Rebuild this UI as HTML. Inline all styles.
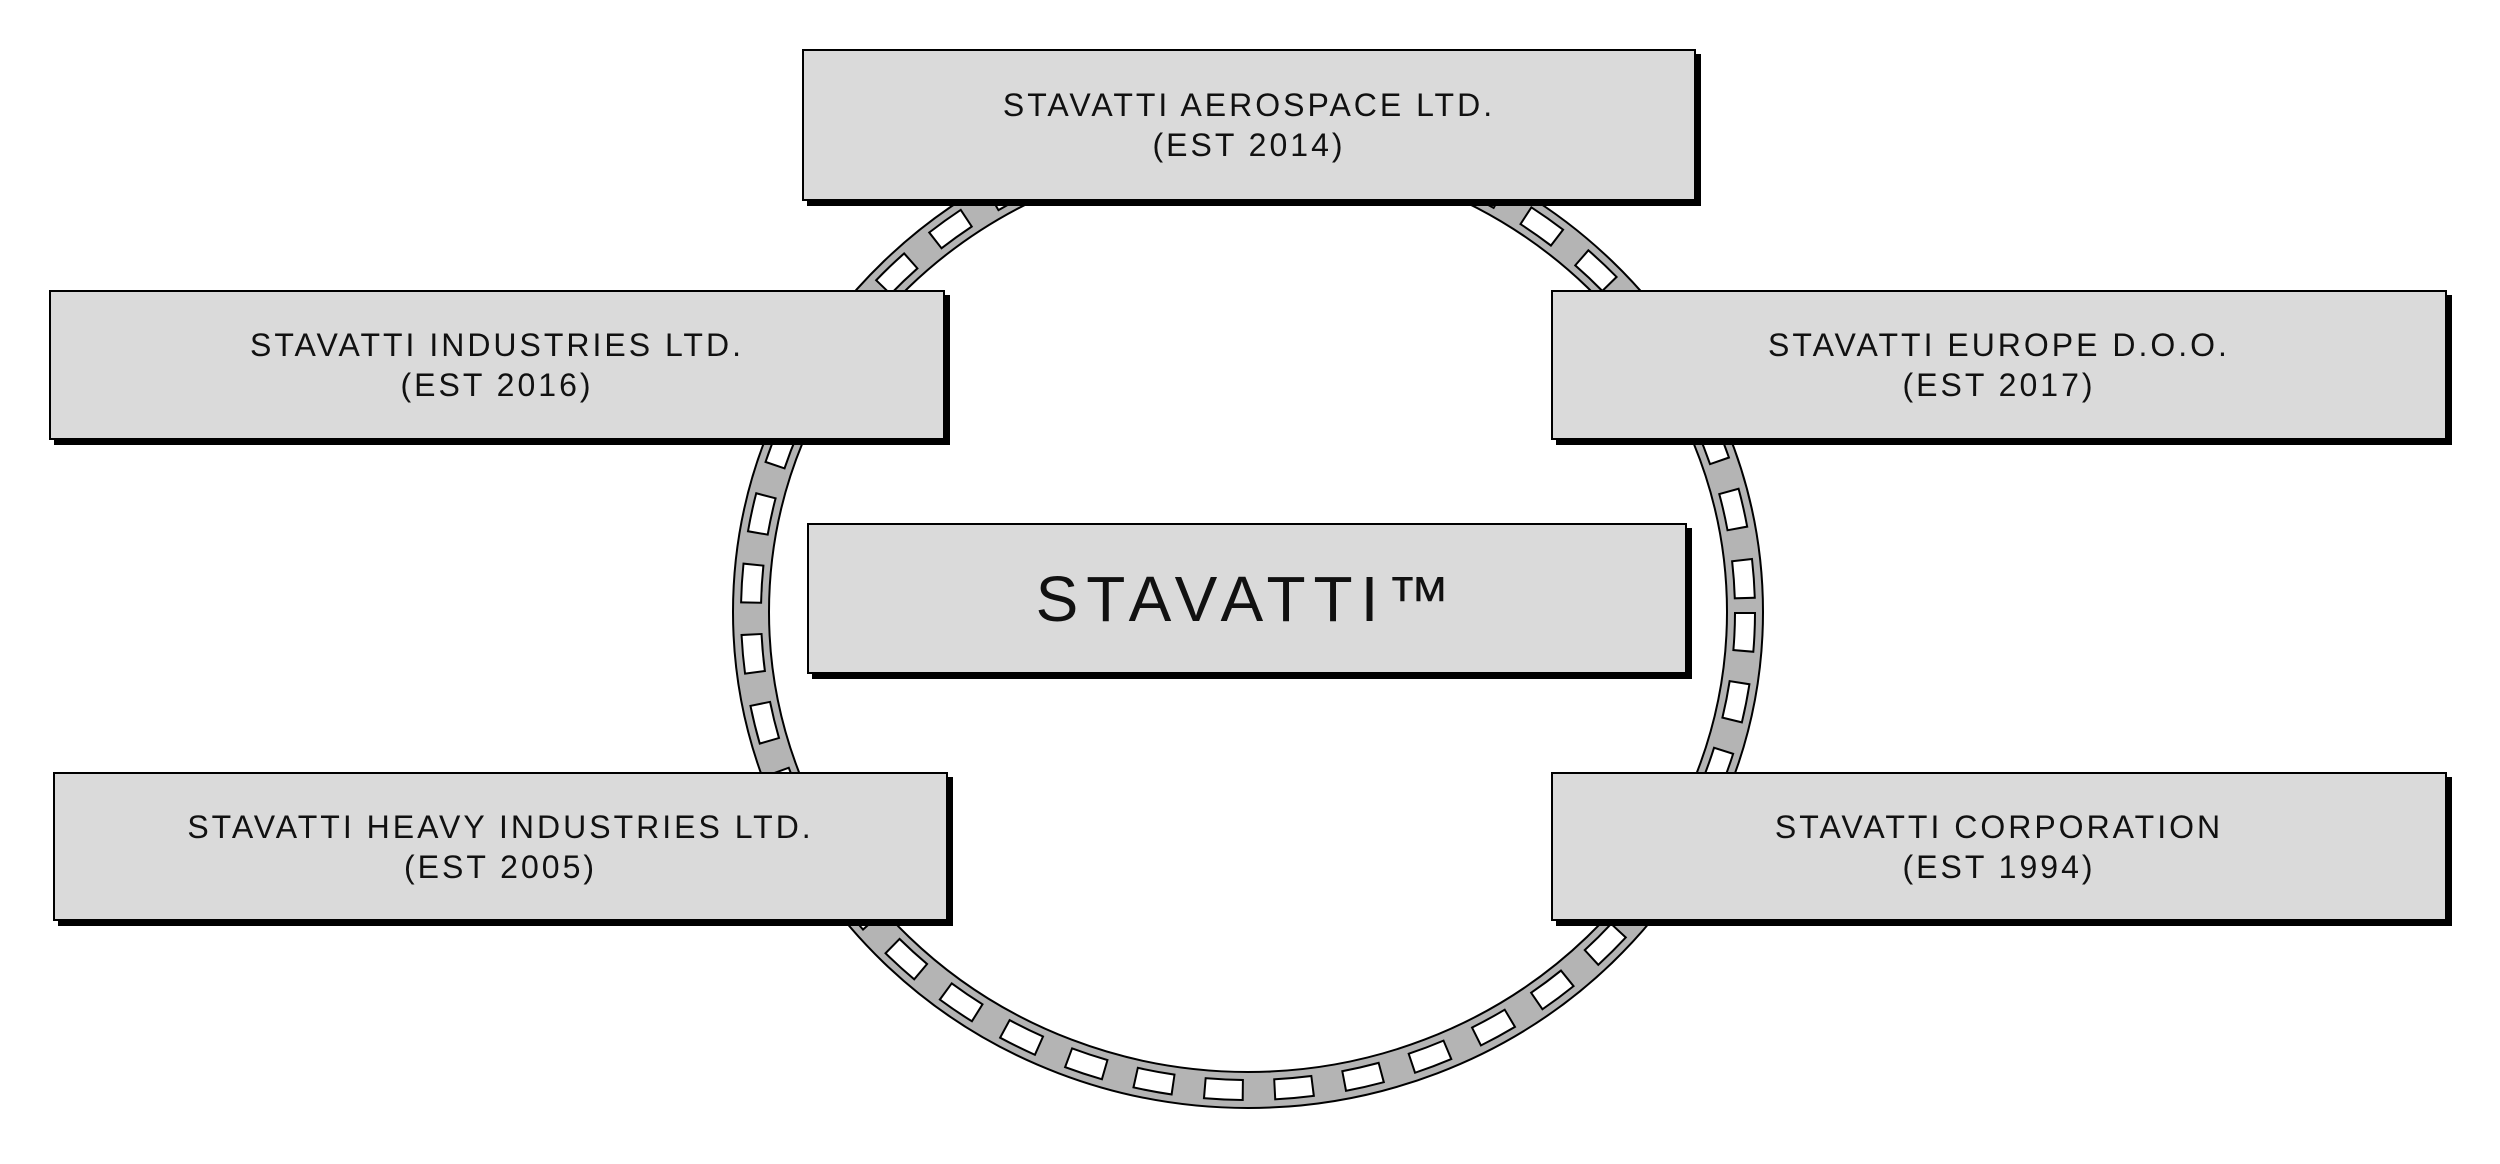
<!DOCTYPE html>
<html><head><style>
body{margin:0;background:#fff;width:2500px;height:1164px;position:relative;overflow:hidden;font-family:"Liberation Sans",sans-serif}
.b{position:absolute;background:#dadada;border:2px solid #000;box-shadow:5px 5px 0 #000;box-sizing:border-box;display:flex;align-items:center;justify-content:center;text-align:center;font-size:32px;line-height:40px;letter-spacing:3px;color:#111}
svg{position:absolute;left:0;top:0}
</style></head><body>
<svg width="2500" height="1164">
<ellipse cx="1248" cy="612" rx="497" ry="478" fill="none" stroke="#000" stroke-width="38"/>
<ellipse cx="1248" cy="612" rx="497" ry="478" fill="none" stroke="#b4b4b4" stroke-width="34"/>
<ellipse cx="1248" cy="612" rx="497" ry="478" fill="none" stroke="#000" stroke-width="22" stroke-dasharray="40 30"/>
<ellipse cx="1248" cy="612" rx="497" ry="478" fill="none" stroke="#fff" stroke-width="18" stroke-dasharray="36 34" stroke-dashoffset="-2"/>
</svg>
<div class="b" style="left:802px;top:49px;width:894px;height:152px">STAVATTI AEROSPACE LTD.<br>(EST 2014)</div>
<div class="b" style="left:49px;top:290px;width:896px;height:150px">STAVATTI INDUSTRIES LTD.<br>(EST 2016)</div>
<div class="b" style="left:1551px;top:290px;width:896px;height:150px">STAVATTI EUROPE D.O.O.<br>(EST 2017)</div>
<div class="b" style="left:807px;top:523px;width:880px;height:151px;font-size:64px;letter-spacing:8px">STAVATTI™</div>
<div class="b" style="left:53px;top:772px;width:895px;height:149px">STAVATTI HEAVY INDUSTRIES LTD.<br>(EST 2005)</div>
<div class="b" style="left:1551px;top:772px;width:896px;height:149px">STAVATTI CORPORATION<br>(EST 1994)</div>
</body></html>
